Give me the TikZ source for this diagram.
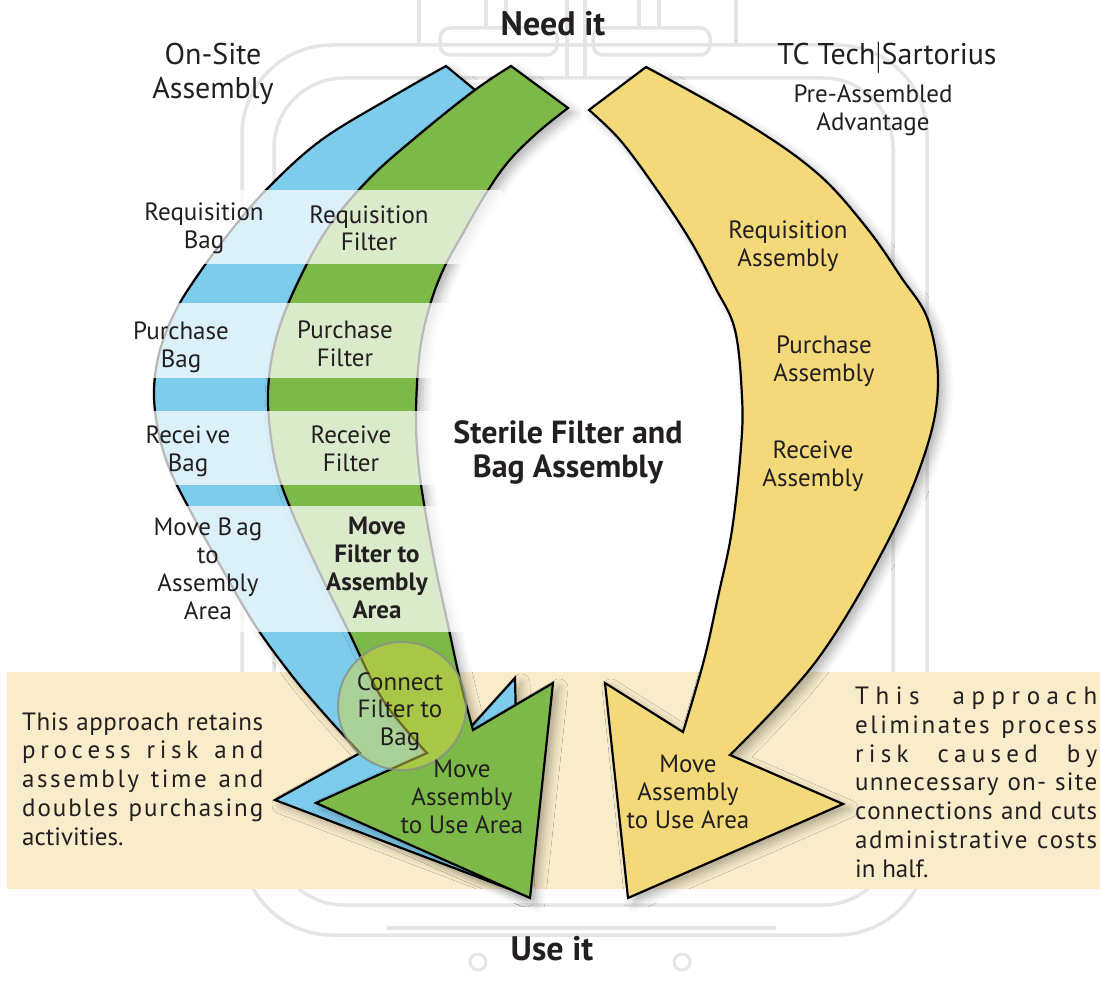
\documentclass[tikz,border=0pt]{standalone}
\usepackage{fontspec}
\setmainfont{PT Sans}
\usetikzlibrary{shadows.blur}
\definecolor{txt}{RGB}{35,31,32}
\definecolor{ablue}{RGB}{126,204,236}
\definecolor{agreen}{RGB}{125,185,72}
\definecolor{ayel}{RGB}{243,217,122}
\definecolor{bandc}{RGB}{248,236,202}
\definecolor{wmc}{RGB}{229,229,229}
\definecolor{circc}{RGB}{214,214,70}
\definecolor{circb}{RGB}{135,145,135}
\def\spr#1#2{#1\ifx#2\relax\else\hskip0pt plus 1fil minus .6pt\relax\expandafter\spr\expandafter#2\fi}
\newcommand\jl[2]{\hbox to #1{\spr#2\relax}}
\begin{document}
\begin{tikzpicture}[x=1pt,y=-1pt,
  lbl/.style={text=txt, align=center, anchor=base, inner sep=0pt, font=\fontsize{25}{28}\selectfont},
  arr/.style={draw=black, line width=2.2pt, line join=miter, miter limit=10},
  wm/.style={draw=wmc, line width=3.5pt},
  wband/.style={fill=white, fill opacity=0.72, draw=none},
  shd/.style={blur shadow={shadow xshift=6pt, shadow yshift=-5pt, shadow blur radius=9pt, shadow opacity=30}}]
\useasboundingbox (0,0) rectangle (1100,987);
% watermark
\draw[wm, rounded corners=90pt] (242,45) rectangle (927,935);
\draw[wm, rounded corners=70pt] (274,78) rectangle (893,905);
\draw[wm] (419,0) -- (419,45) (736,0) -- (736,45);
\draw[wm, rounded corners=10pt] (440,28) rectangle (557,55);
\draw[wm, rounded corners=10pt] (593,28) rectangle (710,55);
\draw[wm] (486,0) -- (486,28) (506,0) -- (506,28) (567,0) -- (567,78) (585,0) -- (585,78) (639,0) -- (639,28) (659,0) -- (659,28);
\draw[wm] (387,928) -- (776,928);
\draw[wm, line width=3pt] (478,962) circle (8) (682,962) circle (8);
% band
\fill[bandc] (7,672) rectangle (1100,889);
% yellow arrow
\path[arr, fill=ayel, shd] (683,732) -- (605,683) -- (628,898) -- (843,804) -- (730,755)
  -- plot[smooth, tension=0.6] coordinates {(730,755) (817,660) (887,543) (926,450) (938,383) (928,320) (901,277) (866,227) (817,173) (746,123) (646,67)}
  -- (589,110)
  -- plot[smooth, tension=0.6] coordinates {(589,110) (620,140) (655,187) (690,240) (715,287) (735,330) (742,397) (741,447) (732,530) (718,597) (704,660) (683,732)}
  -- cycle;
% blue arrow
\path[arr, fill=ablue, shd] (446,66) -- (475,90)
  -- plot[smooth, tension=0.6] coordinates {(475,90) (455,115) (420,150) (385,190) (360,235) (340,290) (330,350) (328,410) (335,480) (350,550) (375,620) (410,690) (450,750)}
  -- (515,678) -- (520,893) -- (275,800) -- (360,753)
  -- plot[smooth, tension=0.6] coordinates {(360,753) (327,717) (293,677) (255,625) (220,565) (191,512) (170,470) (158,430) (154,390) (160,350) (176,310) (200,272) (230,232) (266,190) (320,141) (390,98) (446,66)}
  -- cycle;
% green arrow
\path[arr, fill=agreen, shd] (511,66) -- (568,108)
  -- plot[smooth, tension=0.6] coordinates {(568,108) (537,133) (508,162) (485,195) (462,235) (444,268) (430,305) (420,350) (416,410) (418,460) (425,510) (436,570) (448,625) (460,680) (473,730)}
  -- (553,683) -- (530,898) -- (316,803) -- (427,753)
  -- plot[smooth, tension=0.6] coordinates {(427,753) (383,700) (347,628) (316,565) (292,512) (277,470) (269,420) (269,378) (278,332) (298,282) (328,228) (370,178) (421,133) (475,90) (511,66)}
  -- cycle;
% translucent bands
\fill[wband] (130,190) rectangle (502,264);
\fill[wband] (100,303) rectangle (520,378);
\fill[wband] (100,411) rectangle (512,485);
\fill[wband] (115,506) rectangle (500,632);
% circle
\filldraw[fill=circc, fill opacity=0.5, draw=circb, draw opacity=0.8, line width=2pt] (402,706) circle (64);
% headings (base anchor = baseline of the last line)
\node[lbl, font=\fontsize{34}{38}\selectfont\bfseries] (need) at (553,36) {Need it};
\node[lbl, font=\fontsize{34}{38}\selectfont\bfseries] (use) at (552,960) {Use it};
\node[lbl, font=\fontsize{30}{34}\selectfont] (onsite) at (213,99) {On-Site\\Assembly};
\node[lbl, font=\fontsize{30}{34}\selectfont] (tcs) at (887,65) {TC Tech\kern1pt\raisebox{-4pt}{\scalebox{0.6}[1.25]{|}}\kern1pt Sartorius};
\node[lbl] (pre) at (873,131) {Pre-Assembled\\Advantage};
\node[lbl, font=\fontsize{32}{34}\selectfont\bfseries] (sterile) at (568,477) {Sterile Filter and\\Bag Assembly};
% blue labels
\node[lbl] (rb) at (204,248) {Requisition\\Bag};
\node[lbl] (pb) at (181,367) {Purchase\\Bag};
\node[lbl] (recb) at (188,471) {Recei\,ve\\Bag};
\node[lbl] (mb) at (208,619) {Move B\,ag\\to\\Assembly\\Area};
% green labels
\node[lbl] (rf) at (369,251) {Requisition\\Filter};
\node[lbl] (pf) at (345,366) {Purchase\\Filter};
\node[lbl] (recf) at (351,471) {Receive\\Filter};
\node[lbl, font=\fontsize{25}{28}\selectfont\bfseries] (mf) at (377,618) {Move\\Filter to\\Assembly\\Area};
\node[lbl, font=\fontsize{25}{27.5}\selectfont] (connect) at (400,745) {Connect\\Filter to\\Bag};
\node[lbl] (mg) at (462,833) {Move\\Assembly\\to Use Area};
% yellow labels
\node[lbl] (ra) at (788,266) {Requisition\\Assembly};
\node[lbl] (pa) at (824,381) {Purchase\\Assembly};
\node[lbl] (reca) at (813,486) {Receive\\Assembly};
\node[lbl] (ma) at (688,828) {Move\\Assembly\\to Use Area};
% paragraphs
\node[lbl, align=left, anchor=base west, font=\fontsize{25}{28.75}\selectfont] (lpar) at (22,845) {\jl{241pt}{This\ approach\ retains}\\\jl{241pt}{process\ risk\ and}\\\jl{241pt}{assembly\ time\ and}\\\jl{241pt}{doubles\ purchasing}\\activities.};
\node[lbl, align=left, anchor=base west, font=\fontsize{25}{28.7}\selectfont] (rpar) at (855,877) {\jl{242pt}{This\ \ approach}\\\jl{242pt}{eliminates\ process}\\\jl{242pt}{risk\ \ caused\ \ by}\\\jl{242pt}{unnecessary\ on-\ site}\\\jl{242pt}{connections\ and\ cuts}\\\jl{242pt}{administrative\ costs}\\in half.};
\end{tikzpicture}
\end{document}
